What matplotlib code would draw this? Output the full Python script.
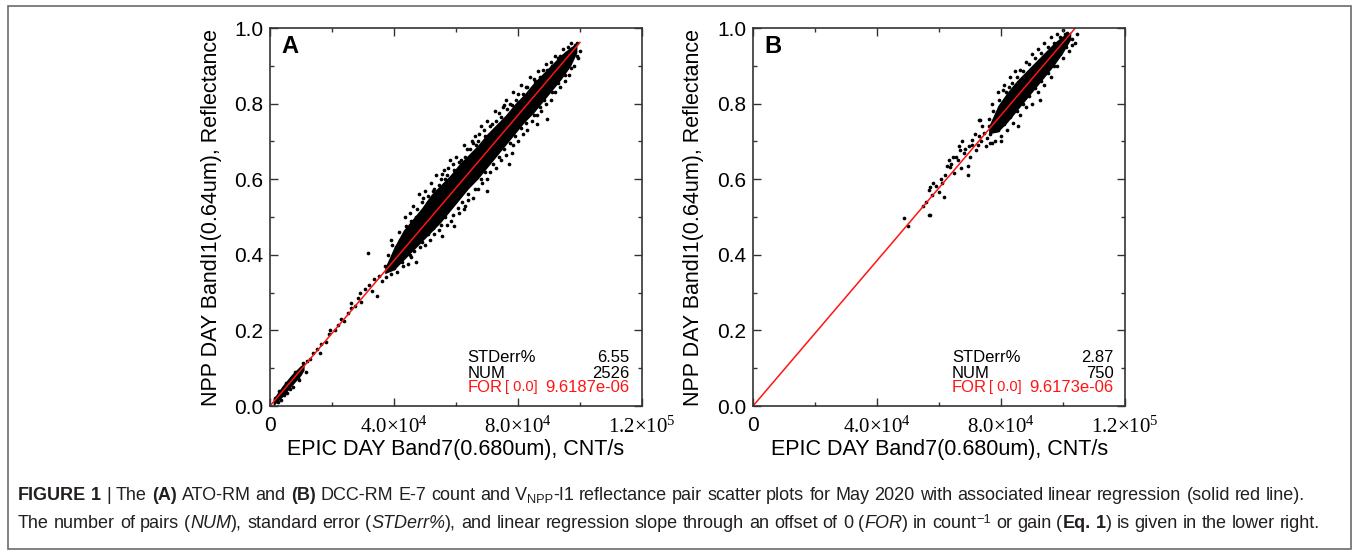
import numpy as np
import matplotlib
matplotlib.use("Agg")
import matplotlib.pyplot as plt
from matplotlib import font_manager
from matplotlib.ticker import MultipleLocator, FuncFormatter
from matplotlib.patches import Rectangle

plt.rcParams["font.family"] = ["Liberation Sans", "DejaVu Sans"]
plt.rcParams["mathtext.fontset"] = "custom"
plt.rcParams["mathtext.rm"] = "Liberation Serif"
plt.rcParams["mathtext.it"] = "Liberation Serif:italic"
plt.rcParams["mathtext.bf"] = "Liberation Serif:bold"

W, H, DPI = 1354, 552, 100
RED = "#ff1414"
INK = "#231f20"
_names = {f.name for f in font_manager.fontManager.ttflist}
CAP_FONT = "Liberation Sans Narrow" if "Liberation Sans Narrow" in _names else "Liberation Sans"

# ---- panel A: ATO-RM  (x in 1e4 CNT/s, y reflectance) ----
A_FOR, A_STD, A_NUM = 9.6187e-06, 6.55, 2526
# dense parts of the cloud, read as envelopes
a_low_x = [0.1, 0.4, 0.7, 1.0, 1.1]
a_low_lo = [0.0, 0.024, 0.053, 0.081, 0.095]
a_low_hi = [0.019, 0.054, 0.084, 0.108, 0.112]
a_core_x = [3.7, 4.0, 4.3, 4.6, 4.9, 5.2, 5.5, 5.8, 6.1, 6.4, 6.7, 7.0, 7.3, 7.6, 7.9,
            8.2, 8.5, 8.8, 9.1, 9.4, 9.7, 9.9]
a_core_lo = [0.35, 0.36, 0.385, 0.41, 0.435, 0.46, 0.485, 0.515, 0.545, 0.575, 0.60, 0.63,
             0.66, 0.69, 0.72, 0.75, 0.775, 0.805, 0.835, 0.865, 0.90, 0.935]
a_core_hi = [0.365, 0.42, 0.465, 0.495, 0.525, 0.56, 0.585, 0.61, 0.64, 0.665, 0.69, 0.72,
             0.745, 0.77, 0.80, 0.825, 0.855, 0.88, 0.905, 0.93, 0.95, 0.96]
# sparse / fringe points
a_x = [0.15, 0.35, 0.5, 0.55, 0.75, 0.8, 0.95, 1.05, 1.15, 1.2,
       1.3, 1.4, 1.5, 1.6, 1.65, 1.8, 1.9, 1.95, 2.1, 2.2, 2.3, 2.4, 2.5, 2.6, 2.6,
       2.75, 2.85, 2.9, 2.95, 3.05, 3.15, 3.2, 3.3, 3.35, 3.45, 3.5, 3.6, 3.7, 3.75,
       3.8, 3.9, 4.05, 4.15, 4.3, 4.35, 4.5, 4.6, 4.7, 4.8, 4.9, 5.0, 5.1, 5.2, 5.3,
       5.35, 5.5, 5.6, 5.7, 5.8, 5.9, 6.0, 6.15, 6.25, 6.35, 6.5, 6.6, 6.7, 6.8, 6.9,
       7.0, 7.15, 7.25, 7.4, 7.5, 7.6, 7.75, 7.85, 8.0, 8.1, 8.25, 8.4, 8.5, 8.65,
       8.8, 8.9, 9.05, 9.2, 9.3, 9.45, 9.6, 9.7, 9.85,
       3.9, 4.1, 4.3, 4.45, 4.55, 4.7, 4.85, 5.0, 5.15, 5.3, 5.45, 5.55, 5.7, 5.85,
       5.95, 6.1, 6.25, 6.4, 6.55, 6.7, 6.85, 7.0, 7.1, 7.3, 7.45, 7.6, 7.7, 7.85,
       8.0, 8.15, 8.3, 8.45, 8.6, 8.75, 8.9, 9.05, 9.2, 9.35, 9.5, 9.65, 9.8, 9.95,
       10.0, 8.95, 7.0,
       3.95, 4.2, 4.4, 4.55, 4.75, 4.95, 5.1, 5.25, 5.45, 5.65, 5.75, 5.95, 6.1, 6.3,
       6.45, 6.65, 6.75, 6.95, 7.1, 7.3, 7.45, 7.65, 7.8, 7.95, 8.15, 8.3, 8.55, 8.7,
       8.95, 9.1, 9.35, 9.55, 9.75, 9.9, 5.55, 6.55, 7.55,
       4.0, 4.25, 4.5, 4.65, 4.9, 5.1, 5.25, 5.5, 5.65, 5.9, 6.05, 6.2, 6.4, 6.6, 6.8,
       6.95, 7.2, 7.4, 7.55, 7.75, 7.9, 8.1, 8.25, 8.5, 8.7, 8.85, 9.1, 9.3, 9.5, 9.7,
       9.9, 6.3, 7.8, 8.6,
       0.25, 0.45, 0.65, 0.9, 1.0, 0.6, 0.3]
a_y = [0.02, 0.015, 0.06, 0.035, 0.05, 0.09, 0.07, 0.115, 0.09, 0.12,
       0.125, 0.14, 0.15, 0.14, 0.165, 0.17, 0.19, 0.2, 0.2, 0.215, 0.23, 0.225, 0.245, 0.26, 0.272,
       0.265, 0.285, 0.3, 0.275, 0.31, 0.405, 0.32, 0.305, 0.335, 0.29, 0.345, 0.33, 0.37, 0.34,
       0.40, 0.44, 0.42, 0.46, 0.45, 0.50, 0.51, 0.53, 0.50, 0.56, 0.54, 0.57, 0.555, 0.59, 0.575,
       0.61, 0.60, 0.625, 0.61, 0.65, 0.64, 0.66, 0.65, 0.69, 0.68, 0.70, 0.715, 0.70, 0.74, 0.73,
       0.755, 0.745, 0.78, 0.775, 0.79, 0.81, 0.80, 0.83, 0.825, 0.85, 0.845, 0.87, 0.865, 0.885,
       0.89, 0.905, 0.91, 0.925, 0.92, 0.945, 0.95, 0.96, 0.955,
       0.35, 0.355, 0.37, 0.375, 0.395, 0.38, 0.42, 0.425, 0.44, 0.455, 0.465, 0.45, 0.48, 0.49,
       0.475, 0.51, 0.52, 0.545, 0.55, 0.575, 0.59, 0.60, 0.62, 0.63, 0.65, 0.665, 0.64, 0.69,
       0.70, 0.72, 0.73, 0.755, 0.77, 0.78, 0.80, 0.81, 0.83, 0.845, 0.86, 0.875, 0.90, 0.92,
       0.94, 0.76, 0.57,
       0.425, 0.44, 0.475, 0.49, 0.52, 0.55, 0.54, 0.57, 0.585, 0.60, 0.63, 0.625, 0.645, 0.66,
       0.68, 0.69, 0.72, 0.715, 0.74, 0.755, 0.765, 0.785, 0.795, 0.81, 0.825, 0.845, 0.86, 0.87,
       0.89, 0.90, 0.925, 0.935, 0.945, 0.96, 0.615, 0.695, 0.795,
       0.365, 0.38, 0.40, 0.41, 0.435, 0.455, 0.47, 0.48, 0.50, 0.505, 0.525, 0.54, 0.56, 0.575, 0.60,
       0.62, 0.64, 0.66, 0.68, 0.695, 0.715, 0.735, 0.75, 0.77, 0.79, 0.81, 0.83, 0.855, 0.875, 0.895,
       0.925, 0.53, 0.67, 0.745,
       0.01, 0.03, 0.045, 0.075, 0.1, 0.065, 0.04]

# ---- panel B: DCC-RM ----
B_FOR, B_STD, B_NUM = 9.6173e-06, 2.87, 750
b_core_x = [7.6, 7.9, 8.2, 8.5, 8.8, 9.1, 9.4, 9.7, 10.0, 10.25]
b_core_lo = [0.72, 0.725, 0.75, 0.78, 0.81, 0.84, 0.87, 0.90, 0.935, 0.97]
b_core_hi = [0.74, 0.795, 0.83, 0.86, 0.885, 0.91, 0.935, 0.96, 0.98, 0.99]
b_x = [4.88, 4.99, 5.47, 5.58, 5.68, 5.68, 5.79, 5.9, 6.0, 6.11, 6.17, 6.27, 6.33, 6.49,
       6.54, 6.65, 6.7, 6.81, 6.92, 6.97, 7.08, 7.18, 7.29, 7.29, 7.45, 7.51, 7.61, 7.72,
       5.71, 5.81, 5.71, 6.35, 6.68, 6.94, 7.32, 7.65,
       6.05, 6.2, 6.4, 6.45, 6.6, 6.75, 6.85, 7.0, 7.05, 7.15, 7.25, 7.35, 7.4, 7.55, 7.6, 7.7,
       7.7, 7.9, 8.1, 8.25, 8.3, 8.45, 8.6, 8.8, 9.0, 9.2, 9.4, 9.6, 9.8, 10.0,
       7.8, 8.0, 8.2, 8.4, 8.55, 8.6, 8.8, 9.0, 9.2, 9.4, 9.6, 9.8, 10.0, 10.2, 10.4, 10.45,
       10.12, 10.28,
       7.75, 7.95, 8.15, 8.35, 8.5, 8.7, 8.9, 9.1, 9.3, 9.5, 9.7, 9.9, 10.05, 8.05,
       7.65, 7.9, 8.1, 8.3, 8.5, 8.7, 8.9, 9.1, 9.3, 9.5, 9.7, 9.9, 10.1, 10.3, 8.0, 9.25]
b_y = [0.497, 0.475, 0.528, 0.541, 0.572, 0.506, 0.559, 0.581, 0.567, 0.59, 0.554, 0.634, 0.651, 0.616,
       0.66, 0.687, 0.629, 0.669, 0.634, 0.687, 0.704, 0.678, 0.713, 0.757, 0.722, 0.687, 0.74, 0.696,
       0.58, 0.589, 0.506, 0.633, 0.677, 0.611, 0.757, 0.695,
       0.60, 0.61, 0.64, 0.66, 0.65, 0.70, 0.68, 0.66, 0.69, 0.72, 0.69, 0.70, 0.74, 0.71, 0.76, 0.73,
       0.80, 0.83, 0.85, 0.845, 0.87, 0.885, 0.89, 0.91, 0.93, 0.945, 0.96, 0.975, 0.985, 0.995,
       0.70, 0.715, 0.73, 0.75, 0.74, 0.77, 0.79, 0.80, 0.83, 0.85, 0.87, 0.90, 0.92, 0.94, 0.96, 0.985,
       0.987, 0.956,
       0.78, 0.81, 0.83, 0.855, 0.87, 0.885, 0.905, 0.92, 0.935, 0.95, 0.96, 0.975, 0.985, 0.835,
       0.72, 0.73, 0.745, 0.765, 0.78, 0.80, 0.82, 0.84, 0.86, 0.88, 0.90, 0.93, 0.95, 0.97, 0.70, 0.81]

XLABEL = "EPIC DAY Band7(0.680um), CNT/s"
YLABEL = "NPP DAY BandI1(0.64um), Reflectance"

CAP1 = [("FIGURE 1", "bold"), (" | The ", "normal"), ("(A)", "bold"), (" ATO-RM and ", "normal"),
        ("(B)", "bold"), (" DCC-RM E-7 count and V", "normal"), ("NPP", "sub"),
        ("-I1 reflectance pair scatter plots for May 2020 with associated linear regression (solid red line).", "normal")]
CAP2 = [("The number of pairs (", "normal"), ("NUM", "italic"), ("), standard error (", "normal"),
        ("STDerr%", "italic"), ("), and linear regression slope through an offset of 0 (", "normal"),
        ("FOR", "italic"), (") in count", "normal"), ("\u22121", "sup"), (" or gain (", "normal"),
        ("Eq. 1", "bold"), (") is given in the lower right.", "normal")]


def xfmt(v, pos):
    if v <= 0:
        return "0"
    e = int(np.floor(np.log10(v) + 1e-9))
    return r"$\mathrm{%.1f{\times}10^{%d}}$" % (v / 10 ** e, e)


def panel(ax, tag, core, low, px, py, gain, std, num, xl, xb, xr):
    ax.fill_between(np.array(core[0]) * 1e4, core[1], core[2], color="black", lw=0)
    if low is not None:
        ax.fill_between(np.array(low[0]) * 1e4, low[1], low[2], color="black", lw=0)
    ax.scatter(np.array(px) * 1e4, py, s=7, color="black", lw=0)
    xend = max(max(px), max(core[0])) * 1e4
    lx = np.array([0, xend])
    ax.plot(lx, gain * lx, color=RED, lw=1.1)

    ax.set_xlim(0, 1.2e5)
    ax.set_ylim(0, 1.0)
    ax.xaxis.set_major_locator(MultipleLocator(4e4))
    ax.xaxis.set_minor_locator(MultipleLocator(2e4))
    ax.yaxis.set_major_locator(MultipleLocator(0.2))
    ax.yaxis.set_minor_locator(MultipleLocator(0.1))
    ax.xaxis.set_major_formatter(FuncFormatter(xfmt))
    ax.yaxis.set_major_formatter(FuncFormatter(lambda v, p: "%.1f" % v))
    ax.tick_params(which="both", direction="in", top=True, right=True, width=1.0, color="#333333")
    ax.tick_params(which="major", length=6, labelsize=15)
    ax.tick_params(which="minor", length=3)
    ax.tick_params(axis="x", pad=7)
    ax.tick_params(axis="y", pad=5)
    for s in ax.spines.values():
        s.set_linewidth(1.2)
        s.set_color("#333333")

    ax.text(0.03, 0.95, tag, transform=ax.transAxes, fontsize=17, fontweight="bold", va="center")
    kw = dict(transform=ax.transAxes, fontsize=12, va="center")
    ax.text(xl, 0.127, "STDerr%", **kw)
    ax.text(xr, 0.127, "%.2f" % std, ha="right", **kw)
    ax.text(xl, 0.087, "NUM", **kw)
    ax.text(xr, 0.087, "%d" % num, ha="right", **kw)
    ax.text(xl, 0.048, "FOR", color=RED, **kw)
    ax.text(xb, 0.050, "[ 0.0]", color=RED, transform=ax.transAxes, fontsize=10.5, va="center")
    ax.text(xr, 0.048, "%.4e" % gain, color=RED, ha="right", **kw)


def caption_line(fig, x, y, parts, size, draw=True):
    """Place styled words one after another; returns the line width in pixels."""
    r = fig.canvas.get_renderer()
    x0 = x

    def put(s, xx, yy, fs, weight, style):
        t = fig.text(xx / W, yy / H, s, fontsize=fs, fontweight=weight, fontstyle=style,
                     family=CAP_FONT, color=INK, va="baseline", ha="left")
        w = t.get_window_extent(r).width
        if not draw:
            t.remove()
        return w

    a = fig.text(0, 0, "n n", fontsize=size, family=CAP_FONT)
    b = fig.text(0, 0, "nn", fontsize=size, family=CAP_FONT)
    sw = a.get_window_extent(r).width - b.get_window_extent(r).width
    a.remove(); b.remove()
    for text, st in parts:
        fs = size * 0.72 if st in ("sub", "sup") else size
        dy = -0.2 * size if st == "sub" else (0.42 * size if st == "sup" else 0)
        weight = "bold" if st == "bold" else "normal"
        style = "italic" if st == "italic" else "normal"
        for i, tok in enumerate(text.split(" ")):
            if i:
                x += sw
            if tok:
                x += put(tok, x, y + dy, fs, weight, style)
    return x - x0


fig = plt.figure(figsize=(W / DPI, H / DPI), dpi=DPI)
axA = fig.add_axes([270 / W, 146 / H, 372 / W, 378 / H])
axB = fig.add_axes([753 / W, 146 / H, 372 / W, 378 / H])

panel(axA, "A", (a_core_x, a_core_lo, a_core_hi), (a_low_x, a_low_lo, a_low_hi),
      a_x, a_y, A_FOR, A_STD, A_NUM, 0.53, 0.632, 0.965)
panel(axB, "B", (b_core_x, b_core_lo, b_core_hi), None,
      b_x, b_y, B_FOR, B_STD, B_NUM, 0.535, 0.634, 0.970)

for cx, lx in ((212, 456), (693, 940)):
    fig.text(cx / W, (552 - 217) / H, YLABEL, rotation=90, fontsize=15.5, ha="center", va="center")
    fig.text(lx / W, (552 - 450) / H, XLABEL, fontsize=15.5, ha="center", va="center")

fig.patches.append(Rectangle((8 / W, 3 / H), 1343 / W, 543 / H, transform=fig.transFigure,
                             fill=False, ec="#6b6b6b", lw=1.2))

# caption: size chosen so the second line runs out to ~x=1322
CAP_X = 18
w10 = caption_line(fig, CAP_X, 0, CAP2, 10, draw=False)
cap_size = 10 * (1322 - CAP_X) / w10
caption_line(fig, CAP_X, 552 - 500, CAP1, cap_size)
caption_line(fig, CAP_X, 552 - 528, CAP2, cap_size)

fig.savefig("out.png", dpi=DPI)
